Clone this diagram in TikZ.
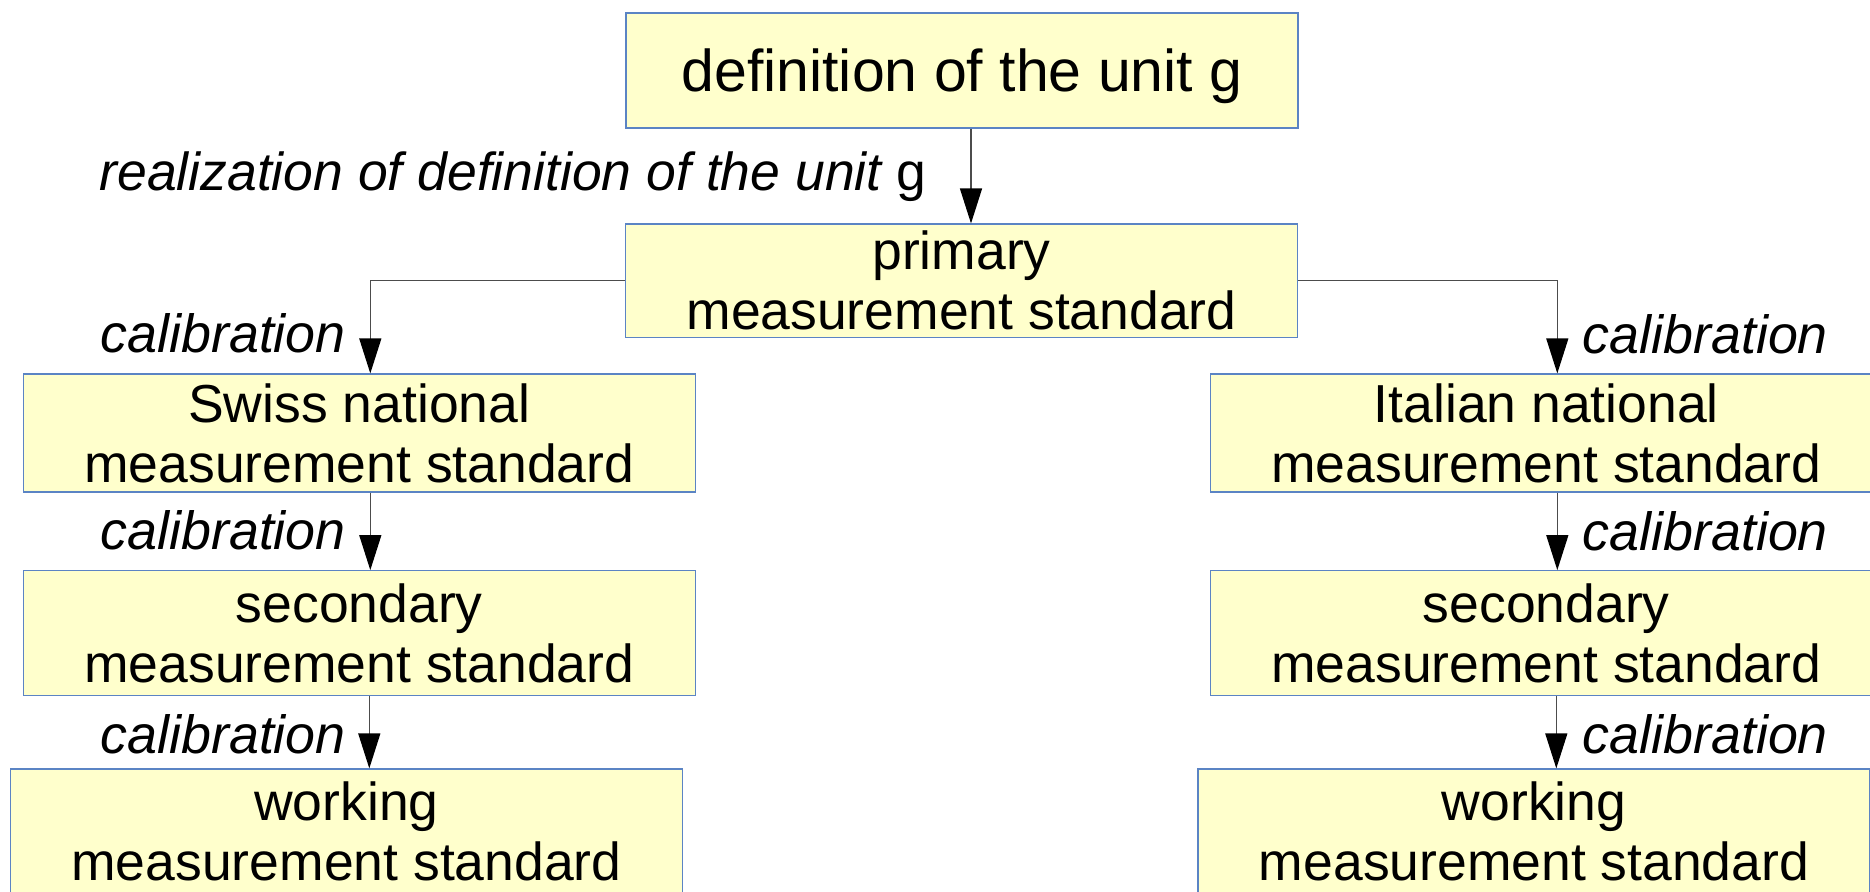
\documentclass[tikz,border=0pt]{standalone}
\usepackage{fontspec}
\setmainfont{Liberation Sans}
\usepackage{xcolor}
\definecolor{BoxFill}{HTML}{FFFFCC}
\definecolor{BoxLine}{HTML}{5B84C4}
\usetikzlibrary{arrows.meta, positioning}

\begin{document}
\begin{tikzpicture}[x=1pt, y=-1pt,
    stdbox/.style={draw=BoxLine, fill=BoxFill, line width=1.2pt, minimum width=672pt,
      align=center, inner sep=0pt, font=\fontsize{53.5}{60}\selectfont},
    arr/.style={black!70, line width=1.3pt, -{Triangle[length=35pt, width=22pt, color=black]}},
    lbl/.style={inner sep=0pt, font=\fontsize{53.8}{60}\selectfont\itshape}]
  \clip (0,0) rectangle (1870,891);
  \fill[white] (0,0) rectangle (1870,891);
  % boxes
  \node[stdbox, minimum height=115pt, font=\fontsize{59}{66}\selectfont, text depth=0pt]
    (def) at (962,70.5) {definition of the unit g};
  \node[stdbox, minimum height=113.5pt] (prim) at (961.5,280.8) {primary\\measurement standard};
  \node[stdbox, minimum height=118pt] (swiss) at (359.3,433) {Swiss national\\measurement standard};
  \node[stdbox, minimum height=118pt] (ital) at (1546.3,433) {Italian national\\measurement standard};
  \node[stdbox, minimum height=125pt] (secl) at (359.3,633.2) {secondary\\measurement standard};
  \node[stdbox, minimum height=125pt] (secr) at (1546.3,633.2) {secondary\\measurement standard};
  \node[stdbox, minimum height=125pt] (workl) at (346.5,831.5) {working\\measurement standard};
  \node[stdbox, minimum height=125pt] (workr) at (1534,831.5) {working\\measurement standard};
  % arrows
  \draw[arr] ([xshift=9pt]def.south) -- ([xshift=9pt]def.south |- prim.north);
  \draw[arr] (prim.west) -| ([xshift=11pt]swiss.north);
  \draw[arr] (prim.east) -| ([xshift=11pt]ital.north);
  \draw[arr] ([xshift=11pt]swiss.south) -- ([xshift=11pt]secl.north);
  \draw[arr] ([xshift=10pt]secl.south) -- ([xshift=10pt]secl.south |- workl.north);
  \draw[arr] ([xshift=11pt]ital.south) -- ([xshift=11pt]secr.north);
  \draw[arr] ([xshift=10pt]secr.south) -- ([xshift=10pt]secr.south |- workr.north);
  % labels
  \node[lbl, anchor=base east, font=\fontsize{53.5}{60}\selectfont\itshape] (real) at (926.5,190)
    {realization of definition of the unit \upshape g};
  \node[lbl, anchor=base east] (calsw) at (346,352) {calibration};
  \node[lbl, anchor=base east] (calsl) at (346,549.5) {calibration};
  \node[lbl, anchor=base east] (calwl) at (346,753.3) {calibration};
  \node[lbl, anchor=base west] (calit) at (1582.5,353) {calibration};
  \node[lbl, anchor=base west] (calsr) at (1582.5,550) {calibration};
  \node[lbl, anchor=base west] (calwr) at (1582.5,753.3) {calibration};
\end{tikzpicture}
\end{document}
